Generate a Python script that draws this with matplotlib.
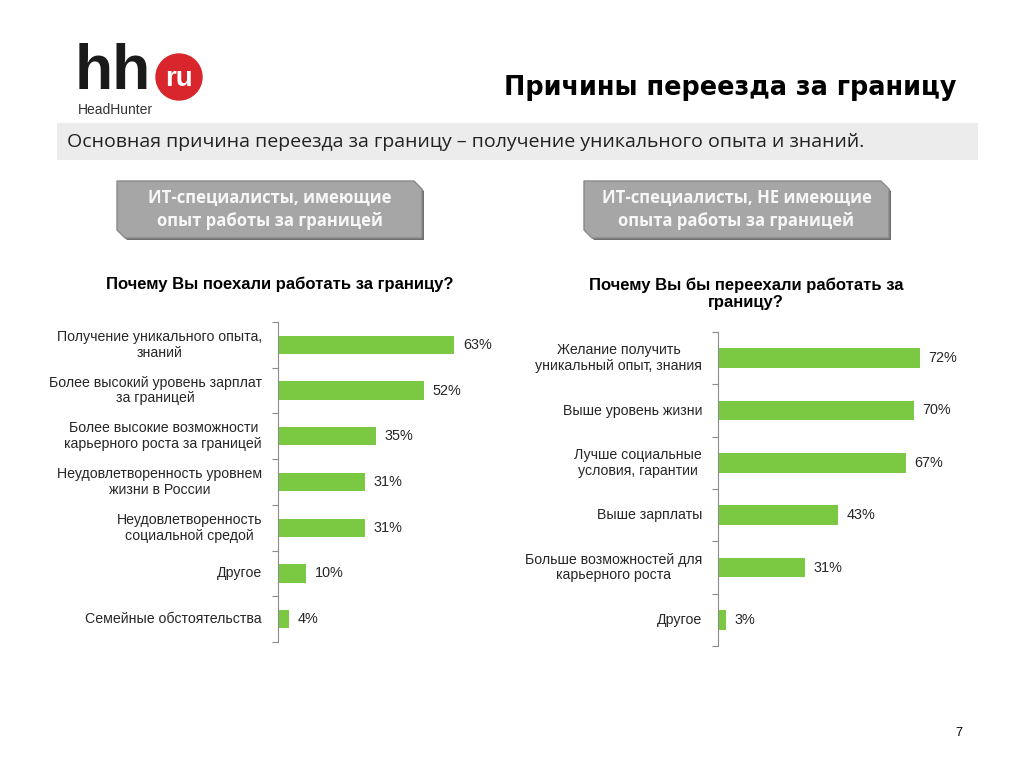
import matplotlib.pyplot as plt
from matplotlib.patches import Polygon, Rectangle, Circle

plt.rcParams['font.family'] = ['Liberation Sans', 'DejaVu Sans']

# Data
left_labels = ["Получение уникального опыта,\nзнаний",
               "Более высокий уровень зарплат\nза границей",
               "Более высокие возможности\nкарьерного роста за границей",
               "Неудовлетворенность уровнем\nжизни в России",
               "Неудовлетворенность\nсоциальной средой",
               "Другое",
               "Семейные обстоятельства"]
left_values = [63, 52, 35, 31, 31, 10, 4]

right_labels = ["Желание получить\nуникальный опыт, знания",
                "Выше уровень жизни",
                "Лучше социальные\nусловия, гарантии",
                "Выше зарплаты",
                "Больше возможностей для\nкарьерного роста",
                "Другое"]
right_values = [72, 70, 67, 43, 31, 3]

W, H = 1024, 768
fig = plt.figure(figsize=(W / 100, H / 100), dpi=100)
bg = fig.add_axes([0, 0, 1, 1])
bg.set_xlim(0, W)
bg.set_ylim(H, 0)
bg.axis('off')

# logo
bg.text(75, 89, "hh", fontsize=45, fontweight='bold', color='#1a1a1a',
        ha='left', va='baseline')
bg.add_patch(Circle((179, 77), 23, color='#d9262c'))
bg.text(179, 79, "ru", fontsize=20, fontweight='bold', color='white',
        ha='center', va='center')
bg.text(78, 110, "HeadHunter", fontsize=10, color='#333333', ha='left', va='center')

# title
bg.text(957, 88, "Причины переезда за границу", fontsize=18.4, fontweight='bold',
        family='DejaVu Sans', ha='right', va='center', color='black')

# subtitle band
bg.add_patch(Rectangle((57, 123), 921, 37, color='#ececec', lw=0))
bg.text(67, 142, "Основная причина переезда за границу – получение уникального опыта и знаний.",
        fontsize=14, family='Open Sans', ha='left', va='center', color='#222222')


def gray_box(x0, y0, x1, y1, text):
    c = 8
    pts = [(x0, y0), (x1 - c, y0), (x1, y0 + c), (x1, y1), (x0 + c, y1), (x0, y1 - c)]
    bg.add_patch(Polygon([(px + 2, py + 2) for px, py in pts], closed=True,
                         color='#6f6f6f', lw=0))
    bg.add_patch(Polygon(pts, closed=True, facecolor='#a6a6a6', edgecolor='#8a8a8a', lw=1))
    bg.text((x0 + x1) / 2, (y0 + y1) / 2, text, fontsize=12, fontweight='bold',
            family='Open Sans', color='#f7f7f7', ha='center', va='center', linespacing=1.3)


gray_box(117, 181, 422, 238, "ИТ-специалисты, имеющие\nопыт работы за границей")
gray_box(584, 181, 889, 238, "ИТ-специалисты, НЕ имеющие\nопыта работы за границей")

bg.text(280, 284, "Почему Вы поехали работать за границу?", fontsize=12,
        fontweight='bold', ha='center', va='center')
bg.text(746, 293.5, "Почему Вы бы переехали работать за\nграницу?", fontsize=12,
        fontweight='bold', ha='center', va='center', linespacing=1.15)

bg.text(962, 733, "7", fontsize=9, ha='right', va='center')


def bar_chart(rect, labels, values, bh):
    ax = fig.add_axes(rect)
    n = len(values)
    pos = list(range(n))
    ax.barh(pos, values, height=bh, color='#7bc943', zorder=2)
    ax.set_xlim(0, 100)
    ax.set_ylim(n - 0.5, -0.5)
    for spine in ['top', 'right', 'bottom']:
        ax.spines[spine].set_visible(False)
    ax.spines['left'].set_color('#8c8c8c')
    ax.set_xticks([])
    ax.set_yticks([p - 0.5 for p in pos] + [n - 0.5])
    ax.set_yticklabels([])
    ax.tick_params(axis='y', length=4, color='#8c8c8c', direction='out')
    for p, lab, v in zip(pos, labels, values):
        ax.text(-5.7, p, lab, ha='right', va='center', multialignment='center',
                fontsize=10.2, linespacing=1.15, color='#262626')
        ax.text(v + 3, p, f"{v}%", ha='left', va='center', fontsize=10.4, color='#262626')
    return ax


bar_chart([278 / W, (H - 642) / H, 280 / W, 320 / H], left_labels, left_values, 0.4)
bar_chart([718 / W, (H - 646) / H, 280 / W, 314 / H], right_labels, right_values, 0.38)

fig.savefig("out.png", dpi=100)
